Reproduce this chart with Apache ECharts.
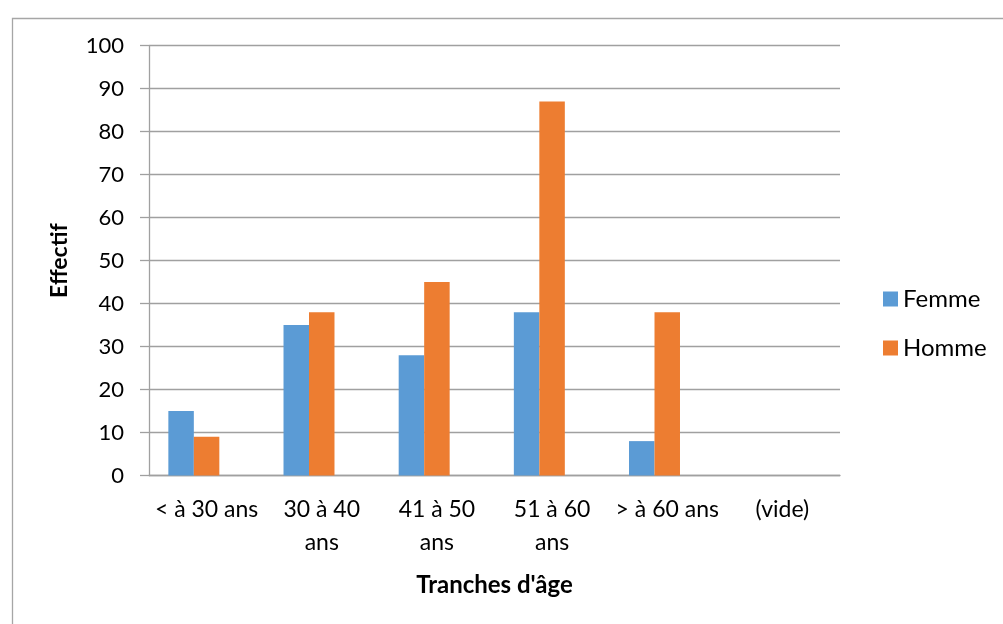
<!DOCTYPE html>
<html>
<head>
<meta charset="utf-8">
<script src="https://cdn.jsdelivr.net/npm/echarts@6/dist/echarts.min.js"></script>
<style>
html,body{margin:0;padding:0;background:#fff;}
#c{width:1003px;height:624px;}
</style>
</head>
<body>
<div id="c"></div>
<script>
const categories = ['< à 30 ans', '30 à 40 ans', '41 à 50 ans', '51 à 60 ans', '> à 60 ans', '(vide)'];
const femme = [15, 35, 28, 38, 8, null];
const homme = [9, 38, 45, 87, 38, null];
const vide = [null, null, null, null, null, null];
const yTicks = [0, 10, 20, 30, 40, 50, 60, 70, 80, 90, 100];

const FONT = 'Lato';
const chart = echarts.init(document.getElementById('c'), null, {renderer: 'canvas'});
chart.setOption({
  animation: false,
  backgroundColor: '#fff',
  textStyle: {fontFamily: FONT, color: '#000'},
  graphic: [{
    type: 'rect', left: 10, top: 16,
    shape: {x: 0, y: 0, width: 1200, height: 800},
    style: {fill: 'none', stroke: '#a6a6a6', lineWidth: 1.3},
    silent: true, z: -10
  }],
  grid: {left: 149, right: 163, top: 45.7, bottom: 148.5, containLabel: false},
  legend: {
    data: ['Femme', 'Homme'],
    orient: 'vertical',
    left: 883, top: 287, padding: 0,
    itemWidth: 15, itemHeight: 15, itemGap: 25, itemTextGap: 7,
    icon: 'rect',
    textStyle: {fontFamily: FONT, fontSize: 24, lineHeight: 24, color: '#000'}
  },
  xAxis: {
    type: 'category',
    data: categories,
    name: "Tranches d'âge",
    nameLocation: 'middle',
    nameGap: 98,
    nameTextStyle: {fontFamily: FONT, fontSize: 24, fontWeight: 'bold', color: '#000'},
    axisLine: {lineStyle: {color: '#a0a0a0', width: 1.3}},
    axisTick: {show: false},
    axisLabel: {
      interval: 0, margin: 18, fontFamily: FONT, fontSize: 23, lineHeight: 33, color: '#000',
      formatter: function (v) { return /^\d+ à \d+ ans$/.test(v) ? v.replace(/ ans$/, '\nans') : v; }
    }
  },
  yAxis: {
    type: 'value',
    min: yTicks[0], max: yTicks[yTicks.length - 1], interval: yTicks[1] - yTicks[0],
    name: 'Effectif',
    nameLocation: 'middle',
    nameGap: 78,
    nameRotate: 90,
    nameTextStyle: {fontFamily: FONT, fontSize: 23, fontWeight: 'bold', color: '#000'},
    axisLine: {show: true, lineStyle: {color: '#a0a0a0', width: 1.3}},
    axisTick: {show: true, length: 9, inside: false, lineStyle: {color: '#a0a0a0', width: 1.3}},
    axisLabel: {margin: 25, fontFamily: FONT, fontSize: 22, color: '#000'},
    splitLine: {show: true, lineStyle: {color: '#a0a0a0', width: 1.3}}
  },
  series: [
    {name: 'Femme', type: 'bar', data: femme, barGap: '0%', barCategoryGap: '33.6%', itemStyle: {color: '#5B9BD5'}},
    {name: 'Homme', type: 'bar', data: homme, barGap: '0%', barCategoryGap: '33.6%', itemStyle: {color: '#ED7D31'}},
    {name: '(vide)', type: 'bar', data: vide, barGap: '0%', barCategoryGap: '33.6%', itemStyle: {color: '#A5A5A5'}}
  ]
});
</script>
</body>
</html>
